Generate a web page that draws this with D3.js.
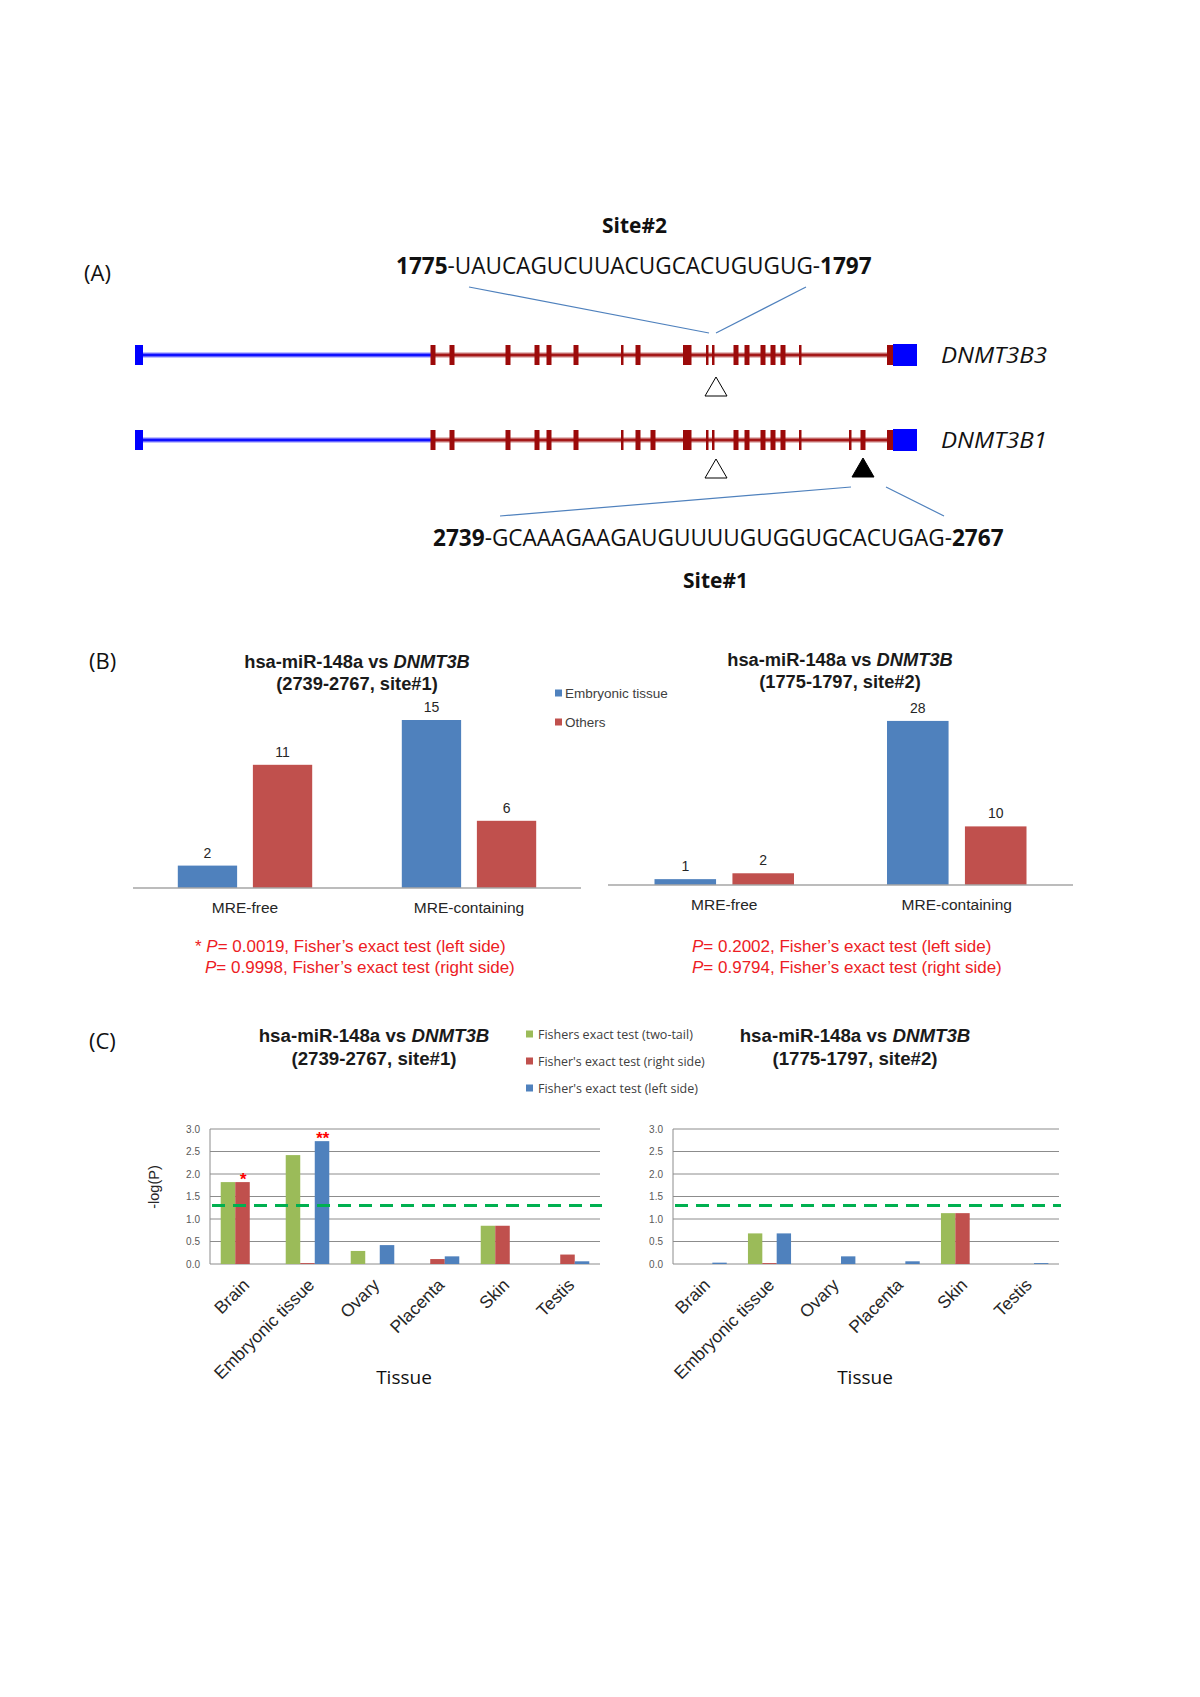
<!DOCTYPE html>
<html><head><meta charset="utf-8">
<script src="https://cdn.jsdelivr.net/npm/d3@7"></script>
<style>html,body{margin:0;padding:0;background:#fff}svg{display:block}</style>
</head><body>
<script>
// ================= DATA =================
// Panel A: transcript structure (arbitrary transcript units)
const transcriptLength = 784;
const utr5Exon = [0, 8];
const utr5End = 298;
const codingExonsB3 = [[295.5,300.5],[314.5,319.5],[370.5,375.5],[399.5,404.5],[411.5,416.5],[438.5,443.5],[486,488.5],[500.5,505.5],
  [548,556.5],[571,573.5],[577,579.5],[598.5,603.5],[609.5,614.5],[625.5,630.5],[635.5,640.5],[645.5,650.5],[664,666.5]];
const codingExonsB1 = [[295.5,300.5],[314.5,319.5],[370.5,375.5],[399.5,404.5],[411.5,416.5],[438.5,443.5],[486,488.5],[500.5,505.5],[515.5,520.5],
  [548,556.5],[571,573.5],[577,579.5],[598.5,603.5],[609.5,614.5],[625.5,630.5],[635.5,640.5],[645.5,650.5],[664,666.5],
  [714,716.5],[725.5,730.5]];
const lastCodingExon = [752, 758];
const utr3Box = [758, 782];
const site2Pos = 581;
const site1Pos = 728;
const site2Seq = ["1775", "UAUCAGUCUUACUGCACUGUGUG", "1797"];
const site1Seq = ["2739", "GCAAAGAAGAUGUUUUGUGGUGCACUGAG", "2767"];

// Panel B
const bCategories = ["MRE-free", "MRE-containing"];
const bSeries = ["Embryonic tissue", "Others"];
const bSite1Embryonic = [2, 15];
const bSite1Others = [11, 6];
const bSite2Embryonic = [1, 28];
const bSite2Others = [2, 10];
const bSite1P = ["0.0019", "0.9998"];
const bSite2P = ["0.2002", "0.9794"];

// Panel C
const cTissues = ["Brain", "Embryonic tissue", "Ovary", "Placenta", "Skin", "Testis"];
const cSeries = ["Fishers exact test (two-tail)", "Fisher's exact test (right side)", "Fisher's exact test (left side)"];
const cSite1TwoTail = [1.82, 2.42, 0.29, 0.00, 0.85, 0.00];
const cSite1Right   = [1.82, 0.02, 0.00, 0.11, 0.85, 0.21];
const cSite1Left    = [0.00, 2.73, 0.42, 0.17, 0.00, 0.06];
const cSite2TwoTail = [0.00, 0.68, 0.00, 0.00, 1.13, 0.00];
const cSite2Right   = [0.00, 0.02, 0.00, 0.00, 1.13, 0.00];
const cSite2Left    = [0.03, 0.68, 0.17, 0.06, 0.00, 0.02];
const cYTicks = [0, 0.5, 1.0, 1.5, 2.0, 2.5, 3.0];
const cThreshold = 1.30;
const cSite1Stars = [{tissue: "Brain", series: 1, mark: "*"}, {tissue: "Embryonic tissue", series: 2, mark: "**"}];

// ================= DRAW =================
const W = 1200, H = 1697;
const SANS = "'Liberation Sans', Arial, sans-serif";
const CAL = "'Open Sans', 'Noto Sans', sans-serif";
const BLUE = "#4f81bd", RED = "#c0504d", GREEN = "#9bbb59";
const PRED = "#ed1c24";

const svg = d3.select("body").append("svg").attr("width", W).attr("height", H);
svg.append("rect").attr("width", W).attr("height", H).attr("fill", "#fff");

function fitText(t, x0, y, width) {
  const w = t.node().getComputedTextLength();
  t.attr("x", 0).attr("y", 0).attr("transform", `translate(${x0},${y}) scale(${width / w},1)`);
}

// ---------- Panel A ----------
svg.append("text").attr("x", 84).attr("y", 281).attr("font-family", CAL).attr("font-size", 22).attr("fill", "#111").text("(A)");

const xA = d3.scaleLinear().domain([0, transcriptLength]).range([135, 919]);
const rows = [
  {name: "DNMT3B3", y: 355, exons: codingExonsB3},
  {name: "DNMT3B1", y: 440, exons: codingExonsB1}
];
rows.forEach(r => {
  const g = svg.append("g");
  g.append("line").attr("x1", xA(0)).attr("x2", xA(utr5End)).attr("y1", r.y).attr("y2", r.y)
    .attr("stroke", "#7777ff").attr("stroke-width", 6).attr("opacity", 0.45);
  g.append("line").attr("x1", xA(0)).attr("x2", xA(utr5End)).attr("y1", r.y).attr("y2", r.y)
    .attr("stroke", "#1010ff").attr("stroke-width", 3);
  g.append("line").attr("x1", xA(utr5End)).attr("x2", xA(utr3Box[0])).attr("y1", r.y).attr("y2", r.y)
    .attr("stroke", "#c47070").attr("stroke-width", 6).attr("opacity", 0.45);
  g.append("line").attr("x1", xA(utr5End)).attr("x2", xA(utr3Box[0])).attr("y1", r.y).attr("y2", r.y)
    .attr("stroke", "#a41818").attr("stroke-width", 3);
  g.append("rect").attr("x", xA(utr5Exon[0])).attr("width", xA(utr5Exon[1]) - xA(utr5Exon[0]))
    .attr("y", r.y - 10).attr("height", 20).attr("fill", "#0000ff");
  g.selectAll("rect.ex").data(r.exons.concat([lastCodingExon])).join("rect").attr("class", "ex")
    .attr("x", d => xA(d[0])).attr("width", d => xA(d[1]) - xA(d[0]))
    .attr("y", r.y - 10).attr("height", 20).attr("fill", "#9c0a0a");
  g.append("rect").attr("x", xA(utr3Box[0])).attr("width", xA(utr3Box[1]) - xA(utr3Box[0]))
    .attr("y", r.y - 11).attr("height", 22).attr("fill", "#0000ff");
  const lab = g.append("text").attr("font-family", CAL).attr("font-style", "italic").attr("font-size", 22)
    .attr("fill", "#111").text(r.name);
  fitText(lab, 941, r.y + 8, 106);
});

function tri(x, top, h, filled) {
  const half = 11;
  svg.append("path").attr("d", `M${x},${top}L${x + half},${top + h}L${x - half},${top + h}Z`)
    .attr("fill", filled ? "#000" : "#fff").attr("stroke", "#000").attr("stroke-width", 1);
}
tri(xA(site2Pos), 377, 19, false);
tri(xA(site2Pos), 459, 19, false);
tri(xA(site1Pos), 458, 19, true);

function seqText(parts, x0, y, width) {
  const t = svg.append("text").attr("font-family", CAL).attr("font-size", 23).attr("fill", "#111");
  t.append("tspan").attr("font-weight", "bold").text(parts[0]);
  t.append("tspan").text("-" + parts[1] + "-");
  t.append("tspan").attr("font-weight", "bold").text(parts[2]);
  fitText(t, x0, y, width);
}
const s2 = svg.append("text").attr("font-family", CAL).attr("font-weight", "bold").attr("font-size", 21).attr("fill", "#111").text("Site#2");
fitText(s2, 602, 233, 65);
seqText(site2Seq, 396, 274, 476);
const cl = {stroke: "#4f81bd", w: 1.2};
svg.append("line").attr("x1", 469).attr("y1", 287).attr("x2", xA(site2Pos) - 7).attr("y2", 333).attr("stroke", cl.stroke).attr("stroke-width", cl.w);
svg.append("line").attr("x1", 806).attr("y1", 287).attr("x2", xA(site2Pos)).attr("y2", 333).attr("stroke", cl.stroke).attr("stroke-width", cl.w);
svg.append("line").attr("x1", 500).attr("y1", 516).attr("x2", xA(site1Pos) - 12).attr("y2", 487).attr("stroke", cl.stroke).attr("stroke-width", cl.w);
svg.append("line").attr("x1", 944).attr("y1", 516).attr("x2", xA(site1Pos) + 23).attr("y2", 487).attr("stroke", cl.stroke).attr("stroke-width", cl.w);
seqText(site1Seq, 433, 546, 571);
const s1 = svg.append("text").attr("font-family", CAL).attr("font-weight", "bold").attr("font-size", 21).attr("fill", "#111").text("Site#1");
fitText(s1, 683, 588, 65);

// ---------- Panel B ----------
svg.append("text").attr("x", 89).attr("y", 669).attr("font-family", CAL).attr("font-size", 22).attr("fill", "#111").text("(B)");

function drawB(o) {
  const g = svg.append("g");
  const x = d3.scaleBand().domain(bCategories).range([o.x0, o.x1]).paddingInner(0.4).paddingOuter(0.2);
  const xs = d3.scaleBand().domain(bSeries).range([0, x.bandwidth()]).paddingInner(0.21);
  const y = d3.scaleLinear().domain([0, o.yMax]).range([o.axisY, o.yTop]);
  const data = [];
  bCategories.forEach((c, i) => {
    data.push({c, s: bSeries[0], v: o.emb[i], col: BLUE});
    data.push({c, s: bSeries[1], v: o.oth[i], col: RED});
  });
  g.selectAll("rect.bar").data(data).join("rect").attr("class", "bar")
    .attr("x", d => x(d.c) + xs(d.s)).attr("width", xs.bandwidth())
    .attr("y", d => y(d.v)).attr("height", d => o.axisY - y(d.v)).attr("fill", d => d.col);
  g.selectAll("text.val").data(data).join("text").attr("class", "val")
    .attr("x", d => x(d.c) + xs(d.s) + xs.bandwidth() / 2).attr("y", d => y(d.v) - 8)
    .attr("text-anchor", "middle").attr("font-family", SANS).attr("font-size", 14).attr("fill", "#262626")
    .text(d => d.v);
  g.append("line").attr("x1", o.x0).attr("x2", o.x1).attr("y1", o.axisY).attr("y2", o.axisY)
    .attr("stroke", "#a6a6a6").attr("stroke-width", 1.5);
  g.selectAll("text.cat").data(bCategories).join("text").attr("class", "cat")
    .attr("x", d => x(d) + x.bandwidth() / 2).attr("y", o.axisY + 25)
    .attr("text-anchor", "middle").attr("font-family", SANS).attr("font-size", 15.5).attr("fill", "#262626").text(d => d);
  const t1 = g.append("text").attr("x", o.cx).attr("y", o.tY).attr("text-anchor", "middle")
    .attr("font-family", SANS).attr("font-weight", "bold").attr("font-size", 18.3).attr("fill", "#1a1a1a");
  t1.append("tspan").text("hsa-miR-148a vs ");
  t1.append("tspan").attr("font-style", "italic").text("DNMT3B");
  g.append("text").attr("x", o.cx).attr("y", o.tY + 22).attr("text-anchor", "middle")
    .attr("font-family", SANS).attr("font-weight", "bold").attr("font-size", 18.3).attr("fill", "#1a1a1a").text(o.sub);
  const sides = ["left side", "right side"];
  o.p.forEach((pv, i) => {
    const t = g.append("text").attr("x", o.px[i]).attr("y", 952 + i * 21)
      .attr("font-family", SANS).attr("font-size", 17).attr("fill", PRED);
    if (o.star && i === 0) t.append("tspan").text("* ");
    t.append("tspan").attr("font-style", "italic").text("P");
    t.append("tspan").text("= " + pv + ", Fisher\u2019s exact test (" + sides[i] + ")");
  });
}
drawB({x0: 133, x1: 581, axisY: 888, yMax: 16, yTop: 888 - 16 * 11.2, emb: bSite1Embryonic, oth: bSite1Others,
  cx: 357, tY: 668, sub: "(2739-2767, site#1)", p: bSite1P, px: [195, 205], star: true});
drawB({x0: 608, x1: 1073, axisY: 885, yMax: 30, yTop: 885 - 30 * 5.86, emb: bSite2Embryonic, oth: bSite2Others,
  cx: 840, tY: 666, sub: "(1775-1797, site#2)", p: bSite2P, px: [692, 692], star: false});

[BLUE, RED].forEach((c, i) => {
  const yy = 693 + i * 29;
  svg.append("rect").attr("x", 555).attr("y", yy - 3.5).attr("width", 7).attr("height", 7).attr("fill", c);
  svg.append("text").attr("x", 565).attr("y", yy + 4.5).attr("font-family", SANS).attr("font-size", 13.5)
    .attr("fill", "#404040").text(bSeries[i]);
});

// ---------- Panel C ----------
svg.append("text").attr("x", 89).attr("y", 1049).attr("font-family", CAL).attr("font-size", 22).attr("fill", "#111").text("(C)");

function drawC(o) {
  const g = svg.append("g");
  const x = d3.scaleBand().domain(cTissues).range([o.x0, o.x1]).paddingInner(0.33).paddingOuter(0.165);
  const xs = d3.scaleBand().domain(cSeries).range([0, x.bandwidth()]);
  const y = d3.scaleLinear().domain([0, 3]).range([1264, 1129]);
  g.selectAll("line.grid").data(cYTicks).join("line").attr("class", "grid")
    .attr("x1", o.x0).attr("x2", o.x1).attr("y1", d => y(d)).attr("y2", d => y(d))
    .attr("stroke", "#8c8c8c").attr("stroke-width", 1);
  g.append("line").attr("x1", o.x0).attr("x2", o.x0).attr("y1", y(0)).attr("y2", y(3))
    .attr("stroke", "#8c8c8c").attr("stroke-width", 1);
  g.selectAll("text.tick").data(cYTicks).join("text").attr("class", "tick")
    .attr("x", o.x0 - 10).attr("y", d => y(d) + 3.5).attr("text-anchor", "end")
    .attr("font-family", SANS).attr("font-size", 10).attr("fill", "#595959").text(d => d3.format(".1f")(d));
  const series = [o.two, o.right, o.left];
  const cols = [GREEN, RED, BLUE];
  const data = [];
  cTissues.forEach((t, i) => series.forEach((s, j) => data.push({t, s: cSeries[j], v: s[i], col: cols[j]})));
  g.selectAll("rect.bar").data(data.filter(d => d.v > 0)).join("rect").attr("class", "bar")
    .attr("x", d => x(d.t) + xs(d.s)).attr("width", xs.bandwidth())
    .attr("y", d => y(d.v)).attr("height", d => y(0) - y(d.v)).attr("fill", d => d.col);
  g.append("line").attr("x1", o.x0 + 2).attr("x2", o.x1 + 2).attr("y1", y(cThreshold)).attr("y2", y(cThreshold))
    .attr("stroke", "#00b050").attr("stroke-width", 3).attr("stroke-dasharray", "13,8");
  (o.stars || []).forEach(s => {
    const si = s.series;
    const v = series[si][cTissues.indexOf(s.tissue)];
    g.append("text").attr("x", x(s.tissue) + xs(cSeries[si]) + xs.bandwidth() / 2).attr("y", y(v) + 3)
      .attr("text-anchor", "middle").attr("font-family", SANS).attr("font-weight", "bold").attr("font-style", "italic")
      .attr("font-size", 17).attr("fill", "#ff0000").text(s.mark);
  });
  g.selectAll("text.xl").data(cTissues).join("text").attr("class", "xl")
    .attr("transform", d => `translate(${x(d) + x.bandwidth() / 2 + o.lx},${1264 + 22}) rotate(-45)`)
    .attr("text-anchor", "end").attr("font-family", SANS).attr("font-size", 17.5).attr("fill", "#262626").text(d => d);
  g.append("text").attr("x", o.tissueX).attr("y", 1384).attr("text-anchor", "middle")
    .attr("font-family", CAL).attr("font-size", 19).attr("fill", "#111").text("Tissue");
  if (o.ylabel) {
    g.append("text").attr("transform", `translate(159,${1187}) rotate(-90)`).attr("text-anchor", "middle")
      .attr("font-family", SANS).attr("font-size", 14.5).attr("fill", "#262626").text("-log(P)");
  }
  const t1 = g.append("text").attr("x", o.cx).attr("y", 1042).attr("text-anchor", "middle")
    .attr("font-family", SANS).attr("font-weight", "bold").attr("font-size", 18.7).attr("fill", "#1a1a1a");
  t1.append("tspan").text("hsa-miR-148a vs ");
  t1.append("tspan").attr("font-style", "italic").text("DNMT3B");
  g.append("text").attr("x", o.cx).attr("y", 1065).attr("text-anchor", "middle")
    .attr("font-family", SANS).attr("font-weight", "bold").attr("font-size", 18.7).attr("fill", "#1a1a1a").text(o.sub);
}
drawC({x0: 210, x1: 600, two: cSite1TwoTail, right: cSite1Right, left: cSite1Left, stars: cSite1Stars,
  lx: 8, tissueX: 404, ylabel: true, cx: 374, sub: "(2739-2767, site#1)"});
drawC({x0: 673, x1: 1059, two: cSite2TwoTail, right: cSite2Right, left: cSite2Left, stars: [],
  lx: 6, tissueX: 865, ylabel: false, cx: 855, sub: "(1775-1797, site#2)"});

const cCols = [GREEN, RED, BLUE];
const widthsC = [155, 167, 160];
cSeries.forEach((s, i) => {
  const yy = 1034 + i * 27;
  svg.append("rect").attr("x", 526).attr("y", yy - 3.5).attr("width", 7).attr("height", 7).attr("fill", cCols[i]);
  const t = svg.append("text").attr("font-family", CAL).attr("font-size", 12.5).attr("fill", "#404040").text(s);
  fitText(t, 538, yy + 4.5, widthsC[i]);
});
</script>
</body></html>
